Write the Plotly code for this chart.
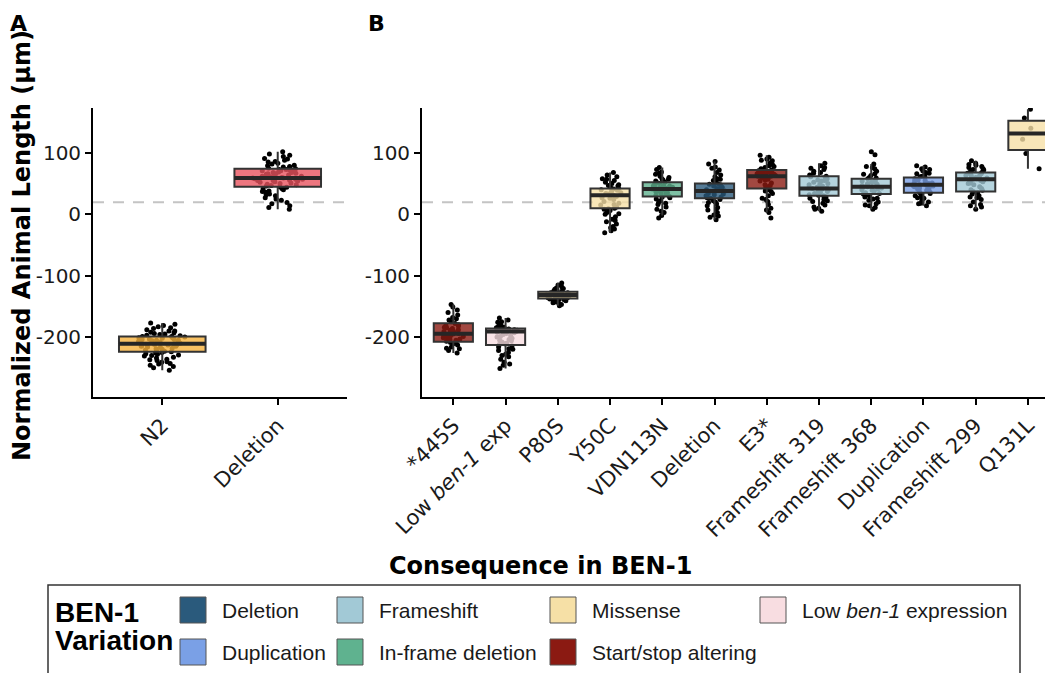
import plotly.graph_objects as go

W, H = 1053, 673
OFF = 8  # page offset of the figure (browser body margin)

# ---------------- data ----------------
REF_LINE = 19.5

a_categories = ["N2", "Deletion"]
a_fill = ["#f6b23c", "#e9545f"]
a_q1 = [-224, 45]
a_median = [-211, 59]
a_q3 = [-199, 74]
a_n2_points = [-254, -250, -246, -243, -240, -238, -236, -233, -231, -229, -227, -225,
               -224, -222, -221, -219, -218, -216, -215, -214, -213, -212, -211, -210,
               -209, -208, -207, -206, -205, -204, -203, -202, -201, -200, -199, -198,
               -196, -194, -192, -190, -188, -185, -181, -177,
               -248, -244, -241, -237, -234, -230, -228, -226, -223, -220, -217, -215,
               -213, -212, -210, -209, -207, -205, -203, -201, -199, -197, -195, -193,
               -190, -186, -183, -179]
a_del_points = [8, 14, 19, 23, 27, 30, 33, 36, 38, 40, 42, 44, 45, 47, 48, 50, 51, 53,
                54, 55, 56, 57, 58, 59, 60, 61, 62, 63, 64, 65, 66, 67, 68, 70, 71, 72,
                73, 74, 76, 78, 80, 82, 85, 88, 91, 94, 98, 102,
                11, 17, 25, 32, 37, 41, 46, 49, 52, 55, 57, 59, 60, 62, 64, 66, 68, 69,
                71, 73, 75, 77, 79, 83, 86, 90, 96]

b_categories = ["*445S", "Low ben-1 exp", "P80S", "Y50C", "VDN113N", "Deletion", "E3*",
                "Frameshift 319", "Frameshift 368", "Duplication", "Frameshift 299", "Q131L"]
b_ticktext = ["*445S", "Low <i>ben-1</i> exp", "P80S", "Y50C", "VDN113N", "Deletion", "E3*",
              "Frameshift 319", "Frameshift 368", "Duplication", "Frameshift 299", "Q131L"]
b_variation = ["Start/stop altering", "Low ben-1 expression", "Missense", "Missense",
               "In-frame deletion", "Deletion", "Start/stop altering", "Frameshift",
               "Frameshift", "Duplication", "Frameshift", "Missense"]
b_q1 = [-207.5, -213, -137, 10, 29, 26, 42, 30, 33, 35, 37, 104.7]
b_median = [-194.5, -191, -131.5, 31, 41, 38, 62, 42, 45, 48, 57, 131.5]
b_q3 = [-177.5, -186, -126, 42, 52, 50, 72, 62, 58, 60, 68, 152.4]

b_points = [
    [-226, -222, -219, -216, -213, -211, -209, -207, -205, -203, -201, -199, -198, -196,
     -195, -194, -193, -191, -190, -188, -186, -184, -182, -180, -178, -175, -172, -168,
     -164, -160, -156, -151, -147,
     -218, -210, -204, -200, -197, -192, -189, -185, -181, -170],
    [-251, -246, -241, -236, -232, -228, -225, -222, -219, -216, -214, -212, -210, -208,
     -206, -204, -202, -200, -198, -196, -194, -192, -191, -190, -189, -188, -187, -186,
     -185, -183, -181, -178, -175, -172, -169,
     -244, -230, -220, -211, -205, -199, -193, -188, -184, -176],
    [-149, -147, -145, -143, -141, -140, -139, -138, -137, -136, -135, -134, -133, -132,
     -132, -131, -130, -129, -128, -127, -126, -125, -124, -122, -120, -118, -115, -112,
     -144, -139, -136, -133, -130, -128, -125, -121],
    [-30, -27, -24, -20, -16, -12, -8, -4, 0, 3, 6, 8, 10, 12, 15, 18, 21, 24, 27, 29, 31,
     33, 35, 37, 39, 40, 42, 44, 46, 48, 50, 52, 55, 58, 61, 64, 68,
     -22, -10, 1, 9, 16, 26, 34, 41, 47, 57],
    [-6, -2, 3, 8, 12, 16, 19, 22, 25, 27, 29, 31, 33, 35, 37, 39, 40, 41, 42, 43, 44, 45,
     46, 47, 48, 50, 52, 54, 56, 58, 60, 62, 65, 69, 73, 76,
     5, 18, 28, 34, 38, 43, 46, 51, 57, 67],
    [-9, -5, -1, 3, 7, 11, 14, 17, 20, 22, 24, 26, 28, 30, 32, 34, 36, 37, 38, 39, 40, 42,
     44, 46, 48, 50, 52, 55, 58, 61, 64, 68, 72, 77, 82, 86,
     -3, 9, 19, 27, 33, 38, 43, 49, 57, 75],
    [-6, 3, 10, 16, 21, 26, 30, 34, 37, 40, 42, 45, 48, 51, 54, 57, 59, 61, 62, 63, 64, 65,
     66, 67, 68, 69, 70, 72, 74, 76, 78, 81, 84, 87, 90, 93, 96,
     7, 24, 38, 47, 56, 62, 66, 71, 79, 88],
    [5, 8, 12, 15, 18, 21, 24, 26, 28, 30, 32, 34, 36, 38, 40, 41, 42, 43, 44, 46, 48, 50,
     52, 54, 56, 58, 60, 62, 64, 67, 70, 73, 76, 79, 83,
     10, 22, 31, 37, 43, 49, 55, 61, 68, 75],
    [8, 11, 14, 17, 20, 23, 26, 28, 30, 32, 33, 35, 37, 39, 41, 43, 44, 45, 46, 47, 48, 50,
     52, 54, 56, 58, 60, 63, 66, 70, 74, 78, 82, 97, 102,
     15, 25, 34, 40, 45, 49, 53, 59, 65, 76],
    [14, 17, 20, 23, 26, 28, 30, 32, 34, 35, 37, 39, 41, 43, 45, 46, 47, 48, 49, 50, 51, 52,
     54, 56, 58, 60, 62, 64, 66, 68, 71, 74, 77, 79,
     18, 27, 36, 42, 47, 50, 55, 61, 67, 73],
    [8, 12, 16, 20, 24, 27, 30, 33, 35, 37, 39, 42, 45, 48, 51, 53, 55, 56, 57, 58, 59, 60,
     61, 62, 64, 66, 68, 70, 72, 74, 76, 78, 80, 83, 87,
     14, 28, 40, 50, 56, 60, 63, 67, 73, 81],
    [74, 99, 122, 140, 157, 171],
]

variation_colors = {
    "Deletion": "#2a5a7c",
    "Duplication": "#7aa0e6",
    "Frameshift": "#a2c9d6",
    "In-frame deletion": "#5fb28f",
    "Missense": "#f6e0a6",
    "Start/stop altering": "#8b1a12",
    "Low ben-1 expression": "#f8dde1",
}
legend_order = ["Deletion", "Duplication", "Frameshift", "In-frame deletion",
                "Missense", "Start/stop altering", "Low ben-1 expression"]
legend_text = {"Low ben-1 expression": "Low <i>ben-1</i> expression"}

y_ticks = [-200, -100, 0, 100]

# ---------------- helpers ----------------
def rgba(hexcol, a):
    h = hexcol.lstrip("#")
    r, g, b = int(h[0:2], 16), int(h[2:4], 16), int(h[4:6], 16)
    return f"rgba({r},{g},{b},{a})"


def whiskers(vals, q1, q3):
    iqr = q3 - q1
    lo = min(v for v in vals if v >= q1 - 1.5 * iqr)
    hi = max(v for v in vals if v <= q3 + 1.5 * iqr)
    return lo, hi


def px_x(p):
    return (p - OFF) / W


def px_y(p):
    return 1 - (p - OFF) / H


BOX_W = 0.75
EDGE = "#333333"
YFONT = dict(family="DejaVu Sans", size=20, color="#1a1a1a")
XFONT = dict(family="DejaVu Sans", size=21, color="#1a1a1a")

fig = go.Figure()


def add_panel(cats, point_lists, q1s, meds, q3s, fills, xa, ya):
    xs, ys = [], []
    for c, pts in zip(cats, point_lists):
        xs += [c] * len(pts)
        ys += pts
    fig.add_trace(go.Box(
        x=xs, y=ys, xaxis=xa, yaxis=ya, boxpoints="all", jitter=0.6, pointpos=0,
        width=BOX_W, whiskerwidth=0, fillcolor="rgba(0,0,0,0)",
        line=dict(color="rgba(0,0,0,0)", width=0),
        marker=dict(color="black", size=5), showlegend=False, hoveron="points"))
    for c, pts, q1, md, q3, fc in zip(cats, point_lists, q1s, meds, q3s, fills):
        lo, hi = whiskers(pts, q1, q3)
        fig.add_trace(go.Box(
            x=[c], q1=[q1], median=[md], q3=[q3], lowerfence=[lo], upperfence=[hi],
            xaxis=xa, yaxis=ya, width=BOX_W, whiskerwidth=0, boxpoints=False,
            fillcolor=rgba(fc, 0.8), line=dict(color=EDGE, width=2),
            showlegend=False))
    fig.add_trace(go.Box(
        x=cats, q1=meds, median=meds, q3=meds, lowerfence=meds, upperfence=meds,
        xaxis=xa, yaxis=ya, width=BOX_W, whiskerwidth=0, boxpoints=False,
        fillcolor="rgba(0,0,0,0)", line=dict(color="#262626", width=4),
        showlegend=False))


add_panel(a_categories, [a_n2_points, a_del_points], a_q1, a_median, a_q3, a_fill, "x", "y")
add_panel(b_categories, b_points, b_q1, b_median, b_q3,
          [variation_colors[v] for v in b_variation], "x2", "y2")

y_dom = [px_y(397), px_y(108)]
y_range = [-297.6, 173.1]
common_x = dict(type="category", showline=True, linecolor="black", linewidth=1.8,
                ticks="outside", ticklen=6, tickwidth=1.6, tickcolor="black",
                tickangle=-45, tickfont=XFONT, showgrid=False, zeroline=False,
                automargin=False)
common_y = dict(range=y_range, domain=y_dom, showline=True, linecolor="black", linewidth=1.8,
                ticks="outside", ticklen=6, tickwidth=1.6, tickcolor="black",
                tickvals=y_ticks, ticktext=[str(v) for v in y_ticks],
                tickfont=YFONT, showgrid=False, zeroline=False, automargin=False)

fig.update_layout(
    width=W, height=H, autosize=False,
    margin=dict(l=0, r=0, t=0, b=0, pad=0),
    paper_bgcolor="white", plot_bgcolor="white",
    boxmode="overlay", showlegend=False,
    xaxis=dict(domain=[px_x(93), px_x(347)], anchor="y", range=[-0.6, 1.6],
               categoryorder="array", categoryarray=a_categories, **common_x),
    yaxis=dict(anchor="x", **common_y),
    xaxis2=dict(domain=[px_x(422), px_x(1053)], anchor="y2", range=[-0.6, 11.48],
                categoryorder="array", categoryarray=b_categories,
                tickvals=b_categories, ticktext=b_ticktext, **common_x),
    yaxis2=dict(anchor="x2", **common_y),
)

shapes = []
for xr, yr in (("x domain", "y"), ("x2 domain", "y2")):
    shapes.append(dict(type="line", xref=xr, yref=yr, x0=0, x1=1, y0=REF_LINE, y1=REF_LINE,
                       line=dict(color="#c4c4c4", width=2, dash="11px,9px"), layer="below"))

P = dict(xref="paper", yref="paper", showarrow=False, yanchor="middle")
BOLD24 = dict(family="DejaVu Sans", size=24, color="black")
BOLD22 = dict(family="DejaVu Sans", size=22, color="black")
annotations = [
    dict(text="<b>A</b>", x=px_x(18), y=px_y(23), xanchor="center", font=BOLD22, **P),
    dict(text="<b>B</b>", x=px_x(376), y=px_y(23), xanchor="center", font=BOLD22, **P),
    dict(text="<b>Normalized Animal Length (µm)</b>", x=px_x(22), y=px_y(246),
         xanchor="center", textangle=-90, font=BOLD24, **P),
    dict(text="<b>Consequence in BEN-1</b>", x=px_x(540), y=px_y(566),
         xanchor="center", font=BOLD24, **P),
]

# legend box (drawn manually to mimic ggplot column layout)
shapes.append(dict(type="rect", xref="paper", yref="paper", x0=px_x(48), x1=px_x(1020),
                   y0=px_y(720), y1=px_y(585), line=dict(color="#333333", width=1.5),
                   fillcolor="rgba(0,0,0,0)"))
TITLEF = dict(family="Liberation Sans", size=28, color="black")
annotations.append(dict(text="<b>BEN-1</b>", x=px_x(53), y=px_y(612), xanchor="left",
                        font=TITLEF, **P))
annotations.append(dict(text="<b>Variation</b>", x=px_x(53), y=px_y(640), xanchor="left",
                        font=TITLEF, **P))
col_x = [180, 337, 550, 760]
row_y = [610, 652]
for i, name in enumerate(legend_order):
    cx, ry = col_x[i // 2], row_y[i % 2]
    shapes.append(dict(type="rect", xref="paper", yref="paper",
                       x0=px_x(cx), x1=px_x(cx + 26), y0=px_y(ry + 13), y1=px_y(ry - 13),
                       fillcolor=variation_colors[name], line=dict(color="#555555", width=1)))
    annotations.append(dict(text=legend_text.get(name, name), x=px_x(cx + 40), y=px_y(ry),
                            xanchor="left",
                            font=dict(family="Liberation Sans", size=21, color="#1a1a1a"), **P))

fig.update_layout(shapes=shapes, annotations=annotations)
fig.write_html("out.html")
